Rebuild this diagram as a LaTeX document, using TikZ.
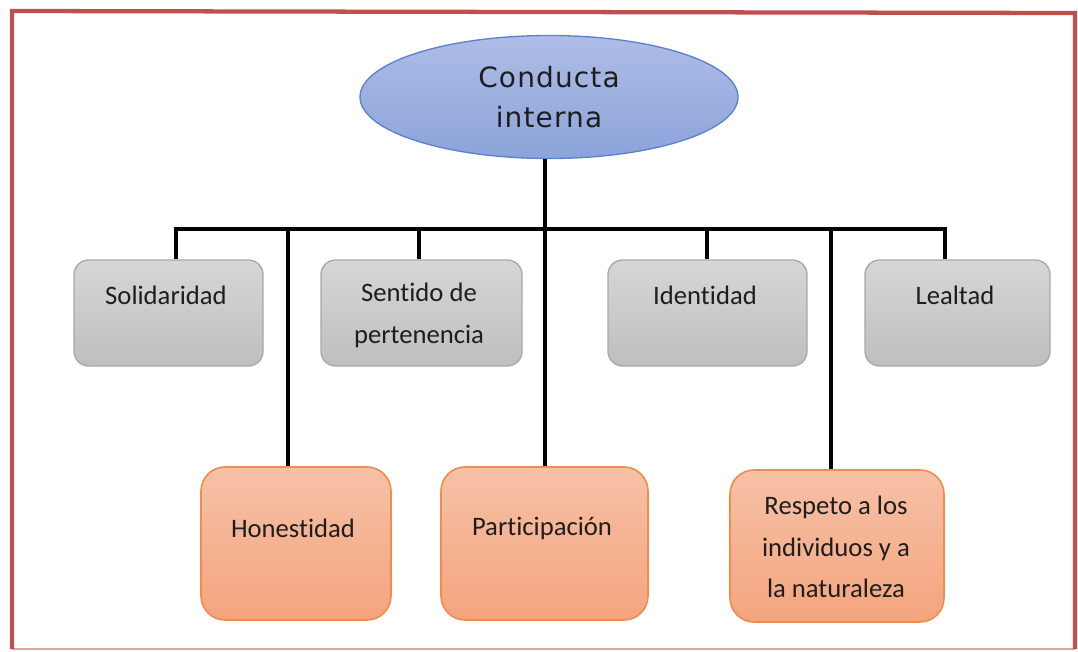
\documentclass[tikz,border=0pt]{standalone}
\usepackage{fontspec}
\setmainfont{Carlito}[Ligatures=NoCommon]
\newfontfamily\ellfont{DejaVu Sans}[LetterSpace=4]
\usetikzlibrary{shapes.geometric,calc}
\definecolor{framered}{HTML}{C0504D}
\definecolor{framepink}{HTML}{E2A3A1}
\definecolor{elltop}{HTML}{AEBDE6}
\definecolor{ellbot}{HTML}{8CA3DA}
\definecolor{elldraw}{HTML}{5B82CE}
\definecolor{graytop}{HTML}{D6D6D6}
\definecolor{graybot}{HTML}{BFBFBF}
\definecolor{graydraw}{HTML}{A8A8A8}
\definecolor{orgtop}{HTML}{F6C1A6}
\definecolor{orgbot}{HTML}{F4A47E}
\definecolor{orgdraw}{HTML}{F08C4E}
\definecolor{txt}{HTML}{1E1E1E}
\tikzset{
  ellnode/.style={ellipse, draw=elldraw, line width=1pt, top color=elltop, bottom color=ellbot,
    minimum width=283.5pt, minimum height=92.25pt, inner sep=0pt},
  graybox/.style={rounded corners=11pt, draw=graydraw, line width=1pt, top color=graytop, bottom color=graybot,
    minimum height=79.5pt, inner sep=0pt},
  orgbox/.style={rounded corners=18pt, draw=orgdraw, line width=1.2pt, top color=orgtop, bottom color=orgbot,
    minimum height=114.75pt, inner sep=0pt},
  lbl/.style={text=txt, align=center, inner sep=0pt, font=\fontsize{20pt}{31pt}\selectfont},
  conn/.style={line width=2.3pt, black},
}
\begin{document}
\begin{tikzpicture}[x=0.75pt,y=-0.75pt]
\useasboundingbox (0,0) rectangle (1078,651);
% frame
\draw[framepink, line width=2pt] (12,649) -- (1075,649);
\draw[framered, line width=3.2pt] (12,649) -- (12,11) -- (1075,13) -- (1075,649);

% ellipse
\node[ellnode, text=txt, align=center, font=\ellfont\fontsize{21pt}{30pt}\selectfont] (ell) at (549,97) {Conducta\\interna};

% gray boxes
\node[graybox, minimum width=141.75pt] (solid) at (168.5,313) {};
\node[graybox, minimum width=150.75pt] (sent) at (421.5,313) {};
\node[graybox, minimum width=149.25pt] (ident) at (707.5,313) {};
\node[graybox, minimum width=138.75pt] (leal) at (957.5,313) {};

\node[lbl] (tsolid) at (166,295) {Solidaridad};
\node[lbl] (tsent) at (419,315.5) {Sentido de\\pertenencia};
\node[lbl] (tident) at (705,295) {Identidad};
\node[lbl] (tleal) at (955,295) {Lealtad};

% orange boxes
\node[orgbox, minimum width=142.5pt] (hon) at (296,543.5) {};
\node[orgbox, minimum width=155.25pt] (part) at (544.5,543.5) {};
\node[orgbox, minimum width=160.5pt, minimum height=114pt] (resp) at (837,546) {};

\node[lbl] (thon) at (293,528) {Honestidad};
\node[lbl] (tpart) at (542,528) {Participación};
\node[lbl] (tresp) at (836,547) {Respeto a los\\individuos y a\\la naturaleza};

% connectors
\coordinate (bar) at (545,229);
\coordinate (jl) at (176,229);
\coordinate (jr) at (945,229);
\coordinate (j1) at (176,229);
\coordinate (j2) at (288,229);
\coordinate (j3) at (419,229);
\coordinate (j4) at (545,229);
\coordinate (j5) at (707,229);
\coordinate (j6) at (831,229);
\coordinate (j7) at (945,229);
\draw[conn] (bar |- ell.south) -- (bar);
\draw[conn, line cap=rect] (jl) -- (jr);
\draw[conn] (j1) -- (j1 |- solid.north);
\draw[conn] (j2) -- (j2 |- hon.north);
\draw[conn] (j3) -- (j3 |- sent.north);
\draw[conn] (j4) -- (j4 |- part.north);
\draw[conn] (j5) -- (j5 |- ident.north);
\draw[conn] (j6) -- (j6 |- resp.north);
\draw[conn] (j7) -- (j7 |- leal.north);
\end{tikzpicture}
\end{document}
